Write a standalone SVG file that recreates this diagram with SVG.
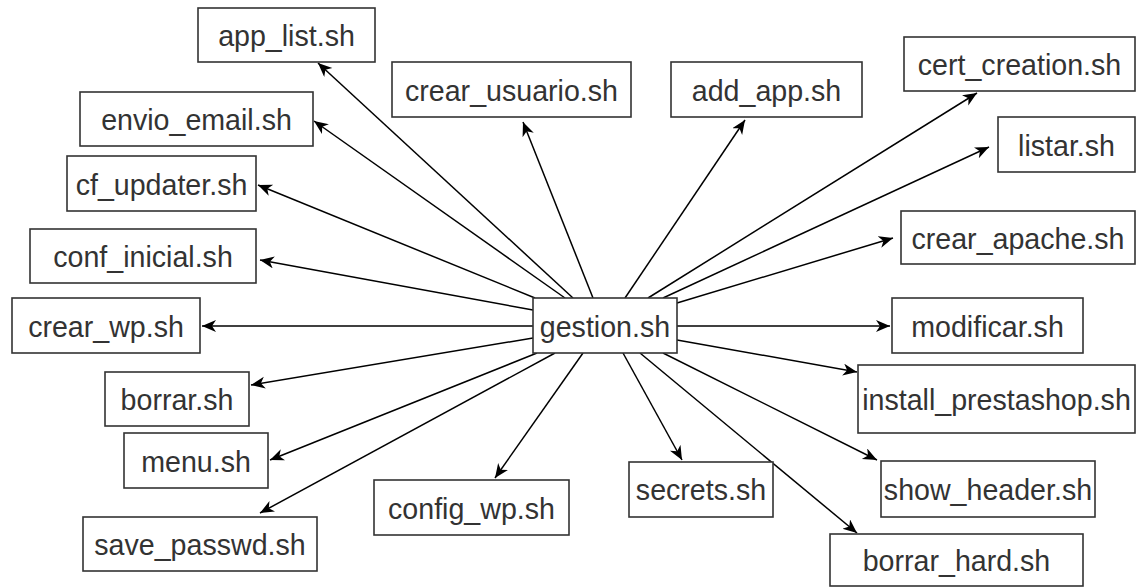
<svg xmlns="http://www.w3.org/2000/svg" width="1136" height="588" viewBox="0 0 1136 588">
<style>
.box{fill:#fff;stroke:#333;stroke-width:1.6}
.lbl{font-family:"Liberation Sans",Arial,sans-serif;font-size:28.6px;fill:#333;text-anchor:middle}
.edge{stroke:#000;stroke-width:1.5;fill:none;marker-end:url(#arr)}
</style>
<defs>
<marker id="arr" markerUnits="userSpaceOnUse" markerWidth="18" markerHeight="14" refX="14" refY="6" orient="auto">
<path d="M0,0 L14,6 L0,12 L4,6 Z" fill="#000"/>
</marker>
</defs>
<rect width="1136" height="588" fill="#fff"/>
<g id="connectors">
<line class="edge" x1="573" y1="298" x2="318" y2="63"/>
<line class="edge" x1="565" y1="298" x2="314" y2="121"/>
<line class="edge" x1="535" y1="298" x2="258" y2="185"/>
<line class="edge" x1="533" y1="310" x2="260" y2="260"/>
<line class="edge" x1="533" y1="326" x2="202" y2="326"/>
<line class="edge" x1="533" y1="338" x2="251" y2="385"/>
<line class="edge" x1="537" y1="353" x2="270" y2="460"/>
<line class="edge" x1="555" y1="353" x2="260" y2="513"/>
<line class="edge" x1="583" y1="353" x2="495" y2="478"/>
<line class="edge" x1="623" y1="353" x2="682" y2="460"/>
<line class="edge" x1="640" y1="353" x2="857" y2="533"/>
<line class="edge" x1="663" y1="353" x2="877" y2="460"/>
<line class="edge" x1="677" y1="340" x2="857" y2="372"/>
<line class="edge" x1="677" y1="326" x2="890" y2="326"/>
<line class="edge" x1="677" y1="303" x2="893" y2="238"/>
<line class="edge" x1="663" y1="298" x2="989" y2="147"/>
<line class="edge" x1="648" y1="298" x2="977" y2="93"/>
<line class="edge" x1="625" y1="298" x2="745" y2="120"/>
<line class="edge" x1="593" y1="298" x2="523" y2="122"/>
</g>
<g id="app_list"><rect class="box" x="198" y="8" width="177" height="54"/><text class="lbl" x="286.5" y="46">app_list.sh</text></g>
<g id="envio_email"><rect class="box" x="80" y="92" width="233" height="54"/><text class="lbl" x="196.5" y="130">envio_email.sh</text></g>
<g id="cf_updater"><rect class="box" x="67" y="156" width="189" height="55"/><text class="lbl" x="161.5" y="194.5">cf_updater.sh</text></g>
<g id="conf_inicial"><rect class="box" x="30" y="229" width="226" height="54"/><text class="lbl" x="143" y="267">conf_inicial.sh</text></g>
<g id="crear_wp"><rect class="box" x="12" y="298" width="188" height="55"/><text class="lbl" x="106" y="336.5">crear_wp.sh</text></g>
<g id="borrar"><rect class="box" x="105" y="372" width="144" height="54"/><text class="lbl" x="177" y="410">borrar.sh</text></g>
<g id="menu"><rect class="box" x="124" y="433" width="144" height="55"/><text class="lbl" x="196" y="471.5">menu.sh</text></g>
<g id="save_passwd"><rect class="box" x="83" y="517" width="234" height="54"/><text class="lbl" x="200" y="555">save_passwd.sh</text></g>
<g id="config_wp"><rect class="box" x="374" y="480" width="195" height="55"/><text class="lbl" x="471.5" y="518.5">config_wp.sh</text></g>
<g id="secrets"><rect class="box" x="629" y="462" width="144" height="55"/><text class="lbl" x="701" y="499.5">secrets.sh</text></g>
<g id="borrar_hard"><rect class="box" x="830" y="534" width="253" height="52"/><text class="lbl" x="956.5" y="570.5">borrar_hard.sh</text></g>
<g id="show_header"><rect class="box" x="881" y="461" width="214" height="56"/><text class="lbl" x="988" y="499.5">show_header.sh</text></g>
<g id="install_prestashop"><rect class="box" x="858" y="365" width="277" height="68"/><text class="lbl" x="996.5" y="409.5">install_prestashop.sh</text></g>
<g id="modificar"><rect class="box" x="892" y="298" width="191" height="55"/><text class="lbl" x="987.5" y="336.5">modificar.sh</text></g>
<g id="crear_apache"><rect class="box" x="901" y="211" width="234" height="53"/><text class="lbl" x="1018" y="248.5">crear_apache.sh</text></g>
<g id="listar"><rect class="box" x="998" y="117" width="137" height="55"/><text class="lbl" x="1066.5" y="155.5">listar.sh</text></g>
<g id="cert_creation"><rect class="box" x="904" y="37" width="231" height="54"/><text class="lbl" x="1019.5" y="75">cert_creation.sh</text></g>
<g id="add_app"><rect class="box" x="671" y="62" width="191" height="55"/><text class="lbl" x="766.5" y="100.5">add_app.sh</text></g>
<g id="crear_usuario"><rect class="box" x="392" y="62" width="239" height="55"/><text class="lbl" x="511.5" y="100.5">crear_usuario.sh</text></g>
<g id="gestion"><rect class="box" x="533" y="298" width="144" height="55"/><text class="lbl" x="605" y="336.5">gestion.sh</text></g>
</svg>
